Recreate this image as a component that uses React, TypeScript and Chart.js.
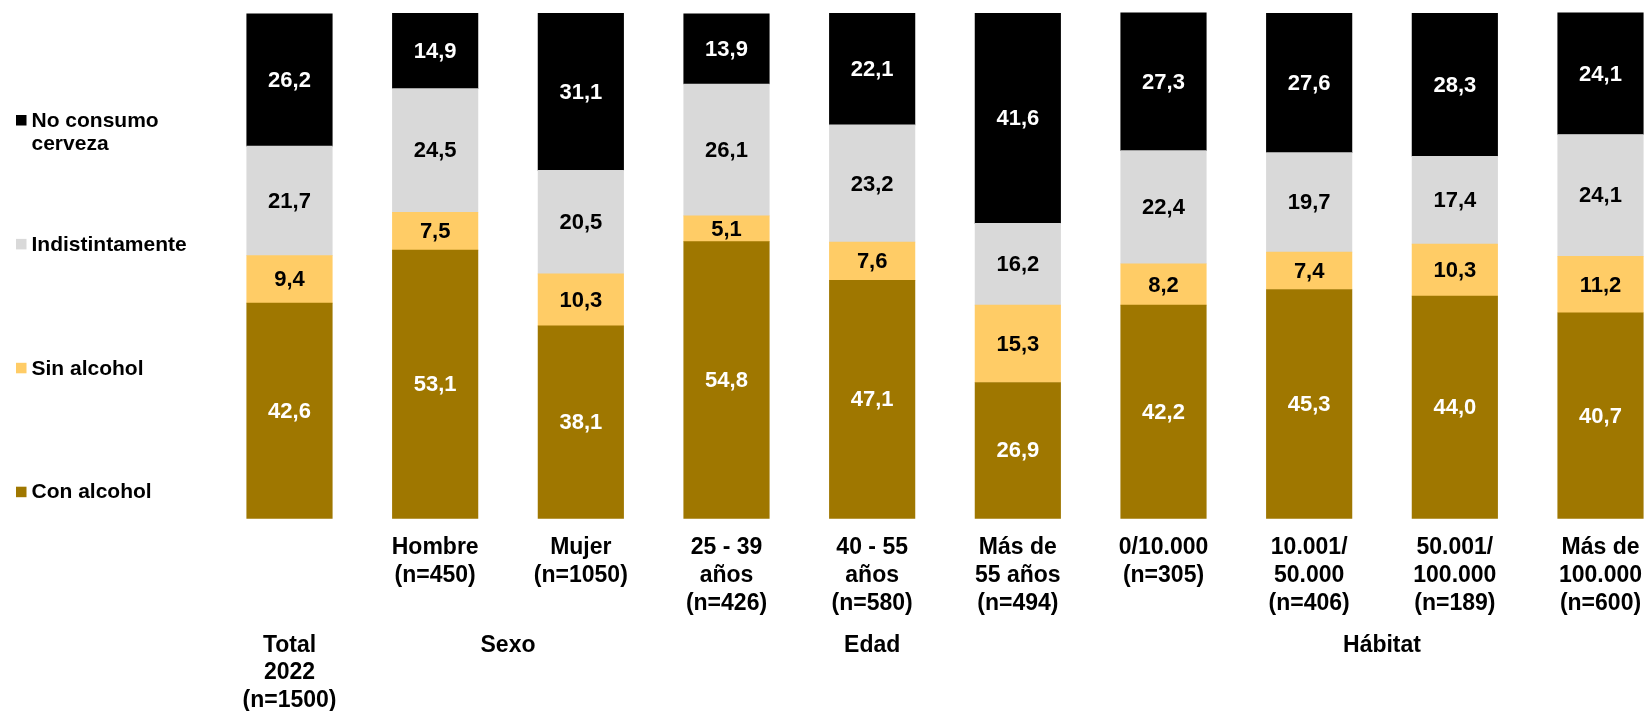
import React, { useEffect, useRef } from 'react';
import { Chart, registerables } from 'chart.js';

Chart.register(...registerables);

// ---- Data ----
const categoryLabels: string[][] = [
  [''],
  ['Hombre', '(n=450)'],
  ['Mujer', '(n=1050)'],
  ['25 - 39', 'años', '(n=426)'],
  ['40 - 55', 'años', '(n=580)'],
  ['Más de', '55 años', '(n=494)'],
  ['0/10.000', '(n=305)'],
  ['10.001/', '50.000', '(n=406)'],
  ['50.001/', '100.000', '(n=189)'],
  ['Más de', '100.000', '(n=600)'],
];

const conAlcohol = [42.6, 53.1, 38.1, 54.8, 47.1, 26.9, 42.2, 45.3, 44.0, 40.7];
const sinAlcohol = [9.4, 7.5, 10.3, 5.1, 7.6, 15.3, 8.2, 7.4, 10.3, 11.2];
const indistintamente = [21.7, 24.5, 20.5, 26.1, 23.2, 16.2, 22.4, 19.7, 17.4, 24.1];
const noConsumo = [26.2, 14.9, 31.1, 13.9, 22.1, 41.6, 27.3, 27.6, 28.3, 24.1];

const seriesNames = ['Con alcohol', 'Sin alcohol', 'Indistintamente', 'No consumo cerveza'];
const legendLines: string[][] = [['No consumo', 'cerveza'], ['Indistintamente'], ['Sin alcohol'], ['Con alcohol']];

// groups: lines, first category index, last category index
const groupLines: string[][] = [['Total', '2022', '(n=1500)'], ['Sexo'], ['Edad'], ['Hábitat']];
const groupFrom = [0, 1, 4, 7];
const groupTo = [0, 2, 4, 8];

// ---- Styles ----
const FONT = '"Liberation Sans", Arial, Helvetica, sans-serif';
const colors = ['#9F7700', '#FFCC66', '#D9D9D9', '#000000'];
const labelColors = ['#FFFFFF', '#000000', '#000000', '#FFFFFF'];
const legendColors = ['#000000', '#D9D9D9', '#FFCC66', '#9F7700'];

const fmt = (v: number) => v.toFixed(1).replace('.', ',');

const overlayPlugin = {
  id: 'overlay',
  afterDatasetsDraw(chart: any) {
    const ctx: CanvasRenderingContext2D = chart.ctx;
    ctx.save();
    // value labels
    ctx.font = `bold 22px ${FONT}`;
    ctx.textAlign = 'center';
    ctx.textBaseline = 'middle';
    chart.data.datasets.forEach((ds: any, i: number) => {
      const meta = chart.getDatasetMeta(i);
      meta.data.forEach((bar: any, j: number) => {
        const p = bar.getProps(['x', 'y', 'base'], true);
        ctx.fillStyle = labelColors[i];
        ctx.fillText(fmt(ds.data[j]), p.x, (p.y + p.base) / 2 + 1);
      });
    });

    // legend (left)
    ctx.textAlign = 'left';
    ctx.textBaseline = 'alphabetic';
    ctx.font = `bold 21px ${FONT}`;
    legendLines.forEach((lines, i) => {
      const baseY = 126.7 + i * 123.9;
      ctx.fillStyle = legendColors[i];
      ctx.fillRect(16, baseY - 11.7, 10.5, 10.5);
      ctx.fillStyle = '#000';
      lines.forEach((t, k) => ctx.fillText(t, 31.5, baseY + k * 23.5));
    });

    // group labels
    const xs = chart.scales.x;
    ctx.textAlign = 'center';
    ctx.font = `bold 23px ${FONT}`;
    ctx.fillStyle = '#000';
    groupLines.forEach((lines, g) => {
      const cx = (xs.getPixelForValue(groupFrom[g]) + xs.getPixelForValue(groupTo[g])) / 2;
      lines.forEach((t, k) => ctx.fillText(t, cx, 651.5 + k * 27.8));
    });
    ctx.restore();
  },
};

export default function App() {
  const ref = useRef<HTMLCanvasElement>(null);

  useEffect(() => {
    document.body.style.margin = '0';
    const series = [conAlcohol, sinAlcohol, indistintamente, noConsumo];
    const chart = new Chart(ref.current!, {
      type: 'bar',
      data: {
        labels: categoryLabels,
        datasets: series.map((d, i) => ({
          label: seriesNames[i],
          data: d,
          backgroundColor: colors[i],
          borderWidth: 0,
          barThickness: 85.5,
          clip: false as any,
        })),
      },
      options: {
        responsive: true,
        maintainAspectRatio: false,
        animation: false,
        layout: { padding: { left: 289.5, right: 48.5, top: 13.3, bottom: 0 } },
        plugins: { legend: { display: false }, tooltip: { enabled: false } },
        scales: {
          x: {
            stacked: true,
            offset: false,
            grid: { display: false, drawTicks: false },
            border: { display: false },
            ticks: {
              color: '#000',
              font: { family: FONT, size: 23, weight: 'bold', lineHeight: 1.2 },
              padding: 16,
              maxRotation: 0,
              minRotation: 0,
              autoSkip: false,
            },
            afterFit(scale: any) {
              scale.height = 192.7;
              scale.paddingLeft = 0;
              scale.paddingRight = 0;
            },
          },
          y: {
            stacked: true,
            display: false,
            min: 0,
            max: 100,
          },
        },
      },
      plugins: [overlayPlugin],
    } as any);
    return () => chart.destroy();
  }, []);

  return (
    <div style={{ position: 'absolute', left: 0, top: 0, width: 1649, height: 711, background: '#fff' }}>
      <canvas ref={ref} />
    </div>
  );
}
